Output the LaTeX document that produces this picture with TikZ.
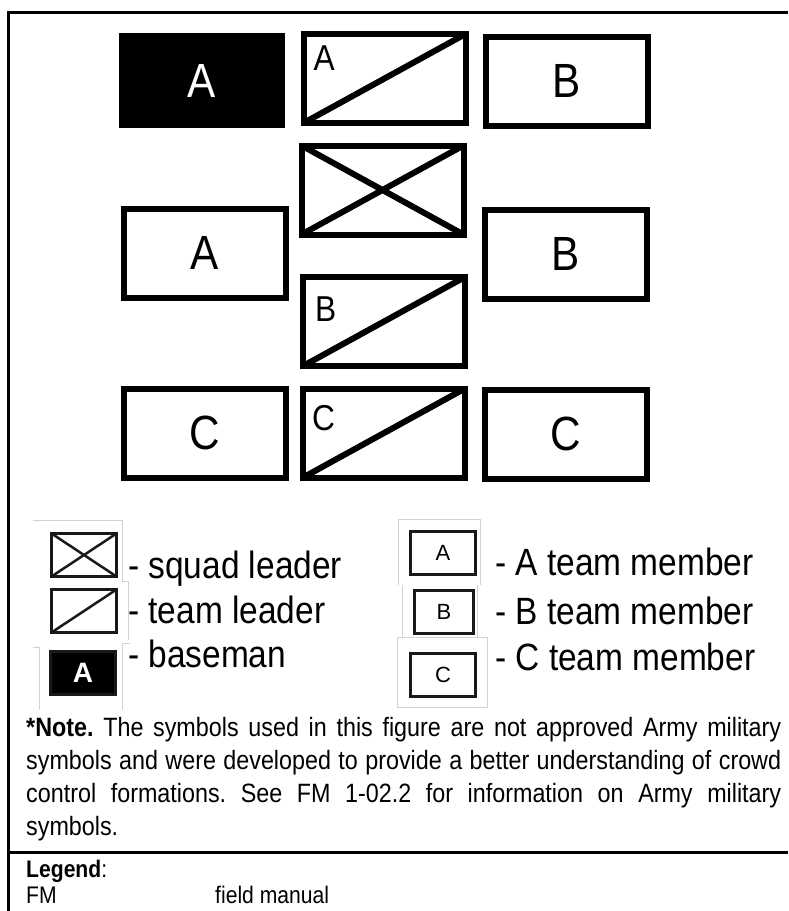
\documentclass[tikz,border=0pt]{standalone}
\usepackage{fontspec}
\setmainfont{Liberation Sans}[FakeStretch=0.88]
\newfontfamily\keyfont{Liberation Sans}
\usepackage{tikz}
\usetikzlibrary{positioning}
\definecolor{keyink}{RGB}{25,25,25}
\definecolor{cropline}{RGB}{210,210,210}
\tikzset{
  member/.style={
    draw=black, line width=6pt, fill=white, inner sep=0pt,
    minimum width=162pt, minimum height=89pt,
    font=\fontsize{48}{48}\selectfont
  },
  basebox/.style={
    fill=black, text=white, inner sep=0pt,
    minimum width=166pt, minimum height=95pt,
    font=\fontsize{48}{48}\selectfont
  },
  slash/.style={line width=6pt},
  tag/.style={anchor=north west, inner sep=0pt, font=\fontsize{36}{36}\selectfont},
  keybox/.style={
    draw=keyink, line width=3pt, inner sep=0pt,
    minimum width=65pt, minimum height=43pt,
    font=\keyfont\fontsize{22}{22}\selectfont
  },
  keyslash/.style={line width=2.5pt, draw=keyink},
  keytext/.style={anchor=base west, inner sep=0pt, font=\fontsize{38}{38}\selectfont},
  crop/.style={draw=cropline, line width=1pt},
  frameline/.style={line width=3pt}
}

\begin{document}
\begin{tikzpicture}[x=1pt, y=-1pt]
  \useasboundingbox (0,0) rectangle (788,911);

  % frame
  \draw[frameline] (788,12) -- (8,12) -- (8,911);
  \draw[frameline] (8,852) -- (788,852);

  % formation
  \node[basebox] (baseA) at (202,80.5) {A};
  \node[member] (leadA) at (384.5,78.5) {};
  \node[member] (memB1) at (566.5,81) {B};
  \node[member] (squad) at (382.5,190) {};
  \node[member] (memA) at (204.5,253) {A};
  \node[member] (memB2) at (565.5,254) {B};
  \node[member] (leadB) at (384,321.5) {};
  \node[member] (memC1) at (204.5,433) {C};
  \node[member] (leadC) at (384,433) {};
  \node[member] (memC2) at (565.5,434) {C};

  \draw[slash] ([shift={(3pt,3pt)}]leadA.south west) -- ([shift={(-3pt,-3pt)}]leadA.north east);
  \draw[slash] ([shift={(3pt,3pt)}]leadB.south west) -- ([shift={(-3pt,-3pt)}]leadB.north east);
  \draw[slash] ([shift={(3pt,3pt)}]leadC.south west) -- ([shift={(-3pt,-3pt)}]leadC.north east);
  \draw[slash] ([shift={(3pt,3pt)}]squad.south west) -- ([shift={(-3pt,-3pt)}]squad.north east);
  \draw[slash] ([shift={(3pt,-3pt)}]squad.north west) -- ([shift={(-3pt,3pt)}]squad.south east);

  \node[tag] (tagA) at ([shift={(13pt,-15pt)}]leadA.north west) {A};
  \node[tag] (tagB) at ([shift={(15pt,-23pt)}]leadB.north west) {B};
  \node[tag] (tagC) at ([shift={(12pt,-20pt)}]leadC.north west) {C};

  % key
  \draw[crop] (33,520) -- (122,520) -- (122,581) -- (128,581) -- (128,640);
  \draw[crop] (33,647) -- (39,647) -- (39,710);
  \draw[crop] (122,643) -- (130,643);
  \draw[crop] (122,643) -- (122,710);
  \draw[crop] (398,585) -- (398,519) -- (480,519) -- (480,585);
  \draw[crop] (402,585) -- (402,637);
  \draw[crop] (477,585) -- (477,637);
  \draw[crop] (397,637) rectangle (487,707);

  \node[keybox] (keySquad) at (84,555) {};
  \draw[keyslash] ([shift={(1.5pt,1.5pt)}]keySquad.south west) -- ([shift={(-1.5pt,-1.5pt)}]keySquad.north east);
  \draw[keyslash] ([shift={(1.5pt,-1.5pt)}]keySquad.north west) -- ([shift={(-1.5pt,1.5pt)}]keySquad.south east);
  \node[keybox] (keyLead) at (84,611) {};
  \draw[keyslash] ([shift={(1.5pt,1.5pt)}]keyLead.south west) -- ([shift={(-1.5pt,-1.5pt)}]keyLead.north east);
  \node[keybox, fill=black, text=white, font=\keyfont\bfseries\fontsize{28}{28}\selectfont] (keyBase) at (83,673) {A};

  \node[keybox] (keyA) at (443,553) {A};
  \node[keybox, minimum width=59pt] (keyB) at (444,611.5) {B};
  \node[keybox] (keyC) at (443,675) {C};

  \node[keytext] (txtSquad) at (128,578) {- squad leader};
  \node[keytext] (txtLead) at (128,623) {- team leader};
  \node[keytext] (txtBase) at (128,667) {- baseman};
  \node[keytext] (txtA) at (495,575) {- A team member};
  \node[keytext] (txtB) at (495,624) {- B team member};
  \node[keytext] (txtC) at (495,670) {- C team member};

  % note and legend
  \node[anchor=north west, inner sep=0pt, text width=755pt, align=justify,
        font=\frenchspacing\fontsize{26.5}{33}\selectfont] (note) at (26,717)
    {\textbf{*Note.} The symbols used in this figure are not approved Army military\linebreak
     symbols and were developed to provide a better understanding of crowd\linebreak
     control formations. See FM 1-02.2 for information on Army military\linebreak
     symbols.};

  \node[anchor=base west, inner sep=0pt, font=\fontsize{24}{24}\selectfont] (legTitle) at (26,877) {\textbf{Legend}:};
  \node[anchor=base west, inner sep=0pt, font=\fontsize{24}{24}\selectfont] (legFM) at (26,903) {FM};
  \node[anchor=base west, inner sep=0pt, font=\fontsize{24}{24}\selectfont] (legFMtxt) at (215,903) {field manual};
\end{tikzpicture}
\end{document}
